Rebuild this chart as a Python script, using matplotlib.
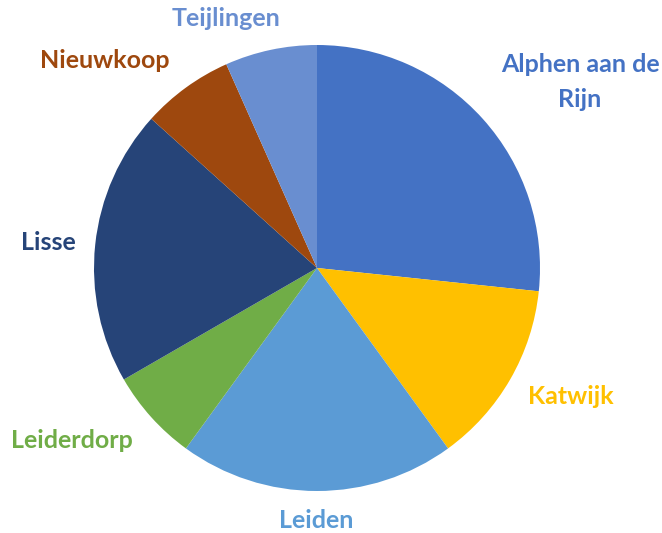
import matplotlib
matplotlib.use("Agg")
import matplotlib.pyplot as plt

categories = ["Alphen aan de\nRijn", "Katwijk", "Leiden", "Leiderdorp", "Lisse", "Nieuwkoop", "Teijlingen"]
values = [4, 2, 3, 1, 3, 1, 1]
colors = ["#4472C4", "#FFC000", "#5B9BD5", "#70AD47", "#264478", "#9E480E", "#698ED0"]

W, H = 662, 533
fig = plt.figure(figsize=(W / 100, H / 100), dpi=100)
ax = fig.add_axes([0, 0, 1, 1])

cx, cy, r = 317, H - 268, 223
wedges, _ = ax.pie(values, colors=colors, startangle=90, counterclock=False,
                   center=(cx, cy), radius=r, frame=True)
ax.set_xlim(0, W)
ax.set_ylim(0, H)
ax.set_aspect("equal")
ax.axis("off")

label_pos = [(580, 82), (571, 397), (316, 521), (72, 441), (48, 243), (105, 60), (226, 19)]
for lab, col, (x, y) in zip(categories, colors, label_pos):
    ax.text(x, H - y, lab, color=col, fontsize=18, fontweight="bold", family="Lato",
            ha="center", va="center", linespacing=1.6)

fig.savefig("out.png", dpi=100)
